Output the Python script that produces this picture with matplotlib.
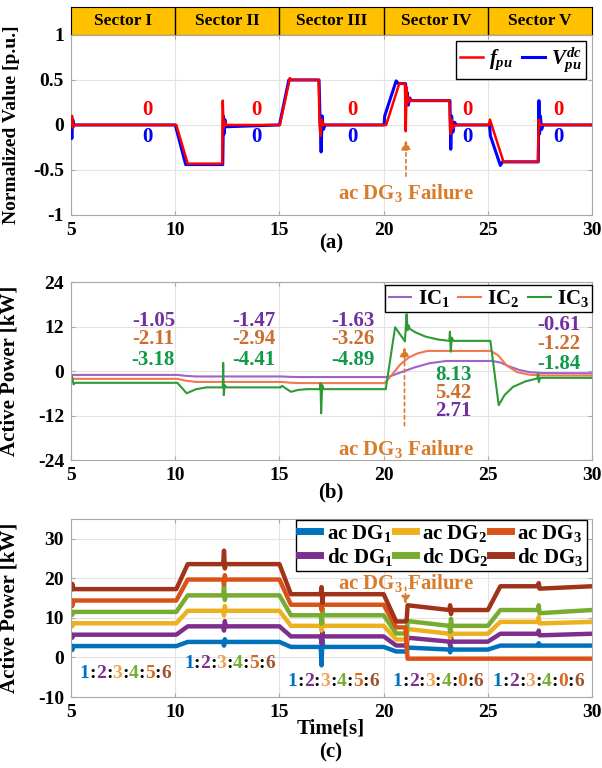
import matplotlib
matplotlib.use("Agg")
import matplotlib.pyplot as plt

plt.rcParams['font.family'] = ['Liberation Serif', 'DejaVu Serif']
plt.rcParams['font.weight'] = 'bold'
plt.rcParams['axes.labelweight'] = 'bold'
plt.rcParams['axes.unicode_minus'] = False
plt.rcParams['mathtext.fontset'] = 'custom'
plt.rcParams['mathtext.rm'] = 'Liberation Serif:bold'
plt.rcParams['mathtext.it'] = 'Liberation Serif:italic:bold'
plt.rcParams['mathtext.bf'] = 'Liberation Serif:bold'

# ---------------- data ----------------
sector_names = ['Sector I', 'Sector II', 'Sector III', 'Sector IV', 'Sector V']
sector_edges = [5, 10, 15, 20, 25, 30]

# (a) normalized frequency / dc voltage
t_f = [5.0, 5.05, 5.1, 5.15, 10.05, 10.6, 12.25, 12.28, 12.32, 12.38, 12.45, 15.02, 15.5, 15.6,
       16.88, 16.92, 16.97, 17.03, 17.12, 20.12, 20.75, 21.02, 21.06, 21.1, 21.15, 21.2, 21.28,
       23.15, 23.2, 23.26, 23.32, 23.42, 25.05, 25.1, 25.75, 27.4, 27.44, 27.5, 30.0]
f_pu = [0.0, 0.1, -0.03, 0.0, 0.0, -0.43, -0.43, 0.27, -0.04, 0.04, 0.0, 0.0, 0.52, 0.5,
        0.5, 0.05, -0.12, 0.06, 0.0, 0.0, 0.46, 0.46, -0.07, 0.42, 0.24, 0.3, 0.27,
        0.27, -0.1, 0.06, -0.04, 0.0, 0.0, 0.06, -0.41, -0.41, 0.06, 0.0, 0.0]
t_v = [5.0, 5.04, 5.08, 5.14, 10.0, 10.5, 12.28, 12.31, 12.34, 12.38, 12.44, 15.0, 15.45, 16.9,
       16.95, 17.0, 17.05, 17.1, 17.2, 20.02, 20.05, 20.6, 20.7, 21.05, 21.1, 21.13, 21.18, 21.25,
       21.32, 23.18, 23.22, 23.26, 23.32, 23.4, 23.5, 25.08, 25.12, 25.6, 25.7, 27.42, 27.45,
       27.48, 27.52, 27.58, 27.65, 30.0]
v_pu = [0.0, -0.15, 0.06, 0.0, 0.0, -0.44, -0.44, 0.1, -0.1, 0.06, -0.02, 0.0, 0.5, 0.5,
        0.05, -0.3, 0.1, -0.05, 0.0, 0.0, 0.1, 0.49, 0.46, 0.46, 0.28, 0.36, 0.22, 0.3,
        0.27, 0.27, -0.27, 0.1, -0.08, 0.03, 0.0, 0.0, -0.12, -0.45, -0.41, -0.41, 0.27,
        -0.1, 0.1, -0.05, 0.0, 0.0]
zero_label_x = [8.65, 13.9, 18.5, 24.0, 28.4]

# (b) interlinking converter power
t_ic1 = [5, 10.1, 10.5, 11.0, 15.1, 15.5, 16.0, 20.2, 20.8, 21.5, 22.2, 23.0, 25.2, 25.6,
         26.0, 26.5, 27.0, 27.6, 30]
ic1 = [-1.05, -1.05, -1.3, -1.47, -1.47, -1.57, -1.63, -1.63, -0.4, 1.0, 2.1, 2.71, 2.71, 2.3,
       1.3, 0.3, -0.3, -0.55, -0.61]
t_ic2 = [5, 10.1, 10.5, 11.0, 15.1, 15.5, 16.0, 20.05, 20.4, 20.8, 21.2, 21.6, 22.1, 25.15,
         25.5, 25.9, 26.4, 27.0, 27.6, 30]
ic2 = [-2.11, -2.11, -2.6, -2.94, -2.94, -3.15, -3.26, -3.26, -1.0, 1.8, 3.6, 4.7, 5.42, 5.42,
       4.2, 1.5, -0.3, -1.0, -1.2, -1.22]
t_ic3 = [5.0, 5.05, 5.12, 5.2, 10.1, 10.55, 11.0, 11.5, 12.28, 12.3, 12.33, 12.37, 12.45, 15.05,
         15.12, 15.55, 15.9, 16.3, 16.93, 16.97, 17.0, 17.05, 17.12, 20.1, 20.55, 21.02, 21.1,
         21.15, 21.2, 21.25, 21.5, 22.0, 22.6, 23.15, 23.18, 23.22, 23.27, 23.35, 25.12, 25.52,
         25.8, 26.2, 26.8, 27.38, 27.4, 27.45, 27.5, 30]
ic3 = [-1.0, -1.5, -3.6, -3.18, -3.18, -6.0, -4.9, -4.41, -4.41, 2.2, -6.5, -3.8, -4.41, -4.41,
       -4.0, -5.6, -5.1, -4.89, -4.89, -3.3, -11.4, -3.8, -4.89, -4.89, 11.8, 8.0, 15.3,
       11.0, 12.3, 11.4, 10.5, 9.3, 8.5, 8.13, 10.6, 5.2, 9.0, 8.13, 8.13, -9.2,
       -6.5, -4.3, -2.8, -2.0, -0.8, -3.0, -1.84, -1.84]
ic_label_x = [8.95, 13.75, 18.55, 23.35, 28.4]
ic1_labels = ['-1.05', '-1.47', '-1.63', '2.71', '-0.61']
ic2_labels = ['-2.11', '-2.94', '-3.26', '5.42', '-1.22']
ic3_labels = ['-3.18', '-4.41', '-4.89', '8.13', '-1.84']

# (c) DG output power
t_dg = [5.0, 5.06, 5.12, 10.05, 10.6, 12.3, 12.34, 12.38, 12.42, 15.0, 15.55, 16.98, 17.02,
        17.06, 17.1, 20.0, 20.6, 21.05, 21.1, 21.15, 23.15, 23.19, 23.23, 23.27, 25.0, 25.6,
        27.4, 27.44, 27.48, 30.0]
ac_dg1 = [2.88, 1.9, 2.88, 2.88, 3.93, 3.93, 3.0, 4.6, 3.93, 3.93, 2.67, 2.67, -2.0, 4.5, 2.67,
          2.67, 1.52, 1.52, 1.2, 2.5, 2.0, 1.3, 2.7, 2.0, 2.0, 3.0, 3.0, 3.6, 3.0, 3.0]
dc_dg1 = [5.76, 5.0, 5.76, 5.76, 7.87, 7.87, 6.8, 9.2, 7.87, 7.87, 5.33, 5.33, 3.5, 6.5, 5.33,
          5.33, 3.03, 3.03, 2.6, 5.0, 4.0, 3.0, 5.2, 4.0, 4.0, 6.0, 6.0, 6.8, 5.6, 6.0]
ac_dg2 = [8.64, 7.9, 8.64, 8.64, 11.8, 11.8, 10.6, 13.0, 11.8, 11.8, 8.0, 8.0, 6.8, 9.6, 8.0,
          8.0, 4.55, 4.55, 4.0, 7.2, 6.0, 5.0, 7.0, 6.0, 6.0, 9.0, 9.0, 10.2, 8.6, 9.0]
dc_dg2 = [11.52, 10.8, 11.52, 11.52, 15.7, 15.7, 18.5, 14.5, 15.7, 15.7, 10.67, 10.67, 8.5, 12.5,
          10.67, 10.67, 6.07, 6.07, 5.5, 9.2, 8.0, 6.5, 9.8, 8.0, 8.0, 12.0, 12.0, 13.2, 11.2, 12.0]
ac_dg3 = [14.4, 13.0, 14.4, 14.4, 19.7, 19.7, 18.5, 20.8, 19.7, 19.7, 13.33, 13.33, 12.0, 14.8,
          13.33, 13.33, 7.6, 7.6, 3.0, -0.3, -0.3, -0.3, -0.3, -0.3, -0.3, -0.3, -0.3, -0.3,
          -0.3, -0.3]
dc_dg3 = [17.28, 18.6, 17.28, 17.28, 23.6, 23.6, 27.0, 22.5, 23.6, 23.6, 16.0, 16.0, 17.8, 13.8,
          16.0, 16.0, 9.1, 9.1, 9.3, 13.2, 12.0, 13.2, 11.0, 12.0, 12.0, 18.0, 18.0, 18.8, 17.4, 18.0]
ratio_x = [5.42, 10.42, 15.39, 20.42, 25.24]
ratio_y = [-4.0, -1.5, -6.1, -6.1, -6.1]
ratio_text = [['1', '2', '3', '4', '5', '6'],
              ['1', '2', '3', '4', '5', '6'],
              ['1', '2', '3', '4', '5', '6'],
              ['1', '2', '3', '4', '0', '6'],
              ['1', '2', '3', '4', '0', '6']]

# ---------------- style ----------------
ORANGE = '#D97B29'
c_ac1, c_ac2, c_ac3 = '#0072BD', '#EDB120', '#D95319'
c_dc1, c_dc2, c_dc3 = '#7E2F8E', '#77AC30', '#A1331B'
digit_colors = [c_ac1, c_dc1, '#F0A050', c_dc2, '#D9691E', '#A0522D']
FS = 15
TS = 14

fig = plt.figure(figsize=(6.02, 7.68), dpi=100)
L, W = 0.118, 0.8655


def style_axes(ax, ylim, yticks):
    ax.set_xlim(5, 30)
    ax.set_ylim(*ylim)
    ax.set_xticks([5, 10, 15, 20, 25, 30])
    ax.set_yticks(yticks)
    ax.grid(True, color='#e3e3e3', lw=0.8)
    ax.set_axisbelow(True)
    for s in ax.spines.values():
        s.set_color('#a8a8a8')
    ax.tick_params(direction='in', length=3, color='#a8a8a8', labelsize=TS, pad=5,
                   top=True, right=True)
    ax.yaxis.set_label_coords(-0.098, 0.5)


# sector bar
ax0 = fig.add_axes([L, 0.9544, W, 0.0365])
ax0.set_facecolor('#FFC000')
ax0.set_xlim(5, 30)
ax0.set_ylim(0, 1)
ax0.set_xticks([])
ax0.set_yticks([])
for s in ax0.spines.values():
    s.set_color('black')
for e in sector_edges[1:-1]:
    ax0.axvline(e, color='black', lw=1)
for i, name in enumerate(sector_names):
    ax0.text((sector_edges[i] + sector_edges[i + 1]) / 2, 0.5, name, ha='center', va='center',
             fontsize=12.5, fontweight='bold')

# (a)
ax1 = fig.add_axes([L, 0.7201, W, 0.2344])
ax1.plot(t_v, v_pu, color='#0000FF', lw=2.2, label=r'$V_{pu}^{dc}$', zorder=3)
ax1.plot(t_f, f_pu, color='#FF0000', lw=1.8, label=r'$f_{pu}$', zorder=4)
style_axes(ax1, (-1, 1), [-1, -0.5, 0, 0.5, 1])
ax1.set_yticklabels(['-1', '-0.5', '0', '0.5', '1'])
ax1.set_ylabel('Normalized Value [p.u.]', fontsize=14)
for x in zero_label_x:
    ax1.text(x, 0.17, '0', color='#FF0000', ha='center', va='center', fontsize=FS)
    ax1.text(x, -0.13, '0', color='#0000FF', ha='center', va='center', fontsize=FS)
ax1.annotate('', xy=(21.07, -0.14), xytext=(21.07, -0.6),
             arrowprops=dict(arrowstyle='-|>', color=ORANGE, lw=1.2, ls=(0, (2, 2)),
                             mutation_scale=14))
ax1.text(21.07, -0.76, r'ac DG$_3$ Failure', color=ORANGE, ha='center', va='center', fontsize=FS)
h, lab = ax1.get_legend_handles_labels()
leg = ax1.legend(h[::-1], lab[::-1], loc='upper right', bbox_to_anchor=(0.988, 0.965), ncol=2,
                 fontsize=FS, handlelength=1.1, handletextpad=0.3, columnspacing=0.4,
                 borderpad=0.2, borderaxespad=0, fancybox=False, edgecolor='black',
                 framealpha=1)
leg.get_frame().set_linewidth(1.0)
fig.text(0.55, 0.6836, '(a)', ha='center', va='center', fontsize=FS)

# (b)
ax2 = fig.add_axes([L, 0.401, W, 0.2318])
ax2.plot(t_ic1, ic1, color='#9E62C8', lw=1.5, label=r'IC$_1$')
ax2.plot(t_ic2, ic2, color='#F07850', lw=1.5, label=r'IC$_2$')
ax2.plot(t_ic3, ic3, color='#2E9A35', lw=1.5, label=r'IC$_3$')
style_axes(ax2, (-24, 24), [-24, -12, 0, 12, 24])
ax2.set_ylabel('Active Power [kW]', fontsize=FS)
for i, x in enumerate(ic_label_x):
    if i == 3:
        ys = [-10.8, -5.9, -1.0]
    elif i == 4:
        ys = [12.4, 7.2, 2.0]
    else:
        ys = [13.6, 8.5, 3.1]
    ax2.text(x, ys[0], ic1_labels[i], color='#7030A0', ha='center', va='center', fontsize=FS)
    ax2.text(x, ys[1], ic2_labels[i], color='#CC6F2E', ha='center', va='center', fontsize=FS)
    ax2.text(x, ys[2], ic3_labels[i], color='#0E9A48', ha='center', va='center', fontsize=FS)
ax2.annotate('', xy=(21.0, 7.2), xytext=(21.0, -15.5),
             arrowprops=dict(arrowstyle='-|>', color=ORANGE, lw=1.2, ls=(0, (2, 2)),
                             mutation_scale=14))
ax2.text(21.05, -21.0, r'ac DG$_3$ Failure', color=ORANGE, ha='center', va='center', fontsize=FS)
leg = ax2.legend(loc='upper right', bbox_to_anchor=(1.0, 0.985), ncol=3, fontsize=FS,
                 handlelength=1.1, handletextpad=0.3, columnspacing=0.4, borderpad=0.15,
                 borderaxespad=0, fancybox=False, edgecolor='black', framealpha=1)
leg.get_frame().set_linewidth(1.0)
fig.text(0.55, 0.359, '(b)', ha='center', va='center', fontsize=FS)

# (c)
ax3 = fig.add_axes([L, 0.0924, W, 0.2318])
series = [(ac_dg1, c_ac1, r'ac DG$_1$'), (dc_dg1, c_dc1, r'dc DG$_1$'),
          (ac_dg2, c_ac2, r'ac DG$_2$'), (dc_dg2, c_dc2, r'dc DG$_2$'),
          (ac_dg3, c_ac3, r'ac DG$_3$'), (dc_dg3, c_dc3, r'dc DG$_3$')]
for vals, col, lab in series:
    ax3.plot(t_dg, vals, color=col, lw=3.2, label=lab)
style_axes(ax3, (-10, 35), [-10, 0, 10, 20, 30])
ax3.set_ylabel('Active Power [kW]', fontsize=FS)
fig.text(0.55, 0.052, 'Time[s]', ha='center', va='center', fontsize=FS)
leg = ax3.legend(loc='upper right', bbox_to_anchor=(0.99, 0.997), ncol=3, fontsize=FS,
                 handlelength=1.0, handletextpad=0.3, columnspacing=0.1, borderpad=0.15,
                 labelspacing=0.1, borderaxespad=0, fancybox=False, edgecolor='black',
                 framealpha=1)
leg.get_frame().set_linewidth(1.0)
for line in leg.get_lines():
    line.set_linewidth(5)
ax3.annotate('', xy=(21.05, 12.8), xytext=(21.05, 18.5),
             arrowprops=dict(arrowstyle='-|>', color=ORANGE, lw=1.2, ls=(0, (2, 2)),
                             mutation_scale=12))
ax3.text(21.07, 18.9, r'ac DG$_3$ Failure', color=ORANGE, ha='center', va='center',
         fontsize=FS)

for x0, y0, digits in zip(ratio_x, ratio_y, ratio_text):
    prev = None
    for k, d in enumerate(digits):
        pieces = [(d, digit_colors[k])]
        if k < len(digits) - 1:
            pieces.append((':', 'black'))
        for s, col in pieces:
            if prev is None:
                prev = ax3.text(x0, y0, s, color=col, ha='left', va='center', fontsize=TS)
            else:
                prev = ax3.annotate(s, xy=(1, 0), xycoords=prev, color=col, ha='left',
                                    va='bottom', fontsize=TS)
fig.text(0.55, 0.0208, '(c)', ha='center', va='center', fontsize=FS)

fig.savefig('out.png', dpi=100)
